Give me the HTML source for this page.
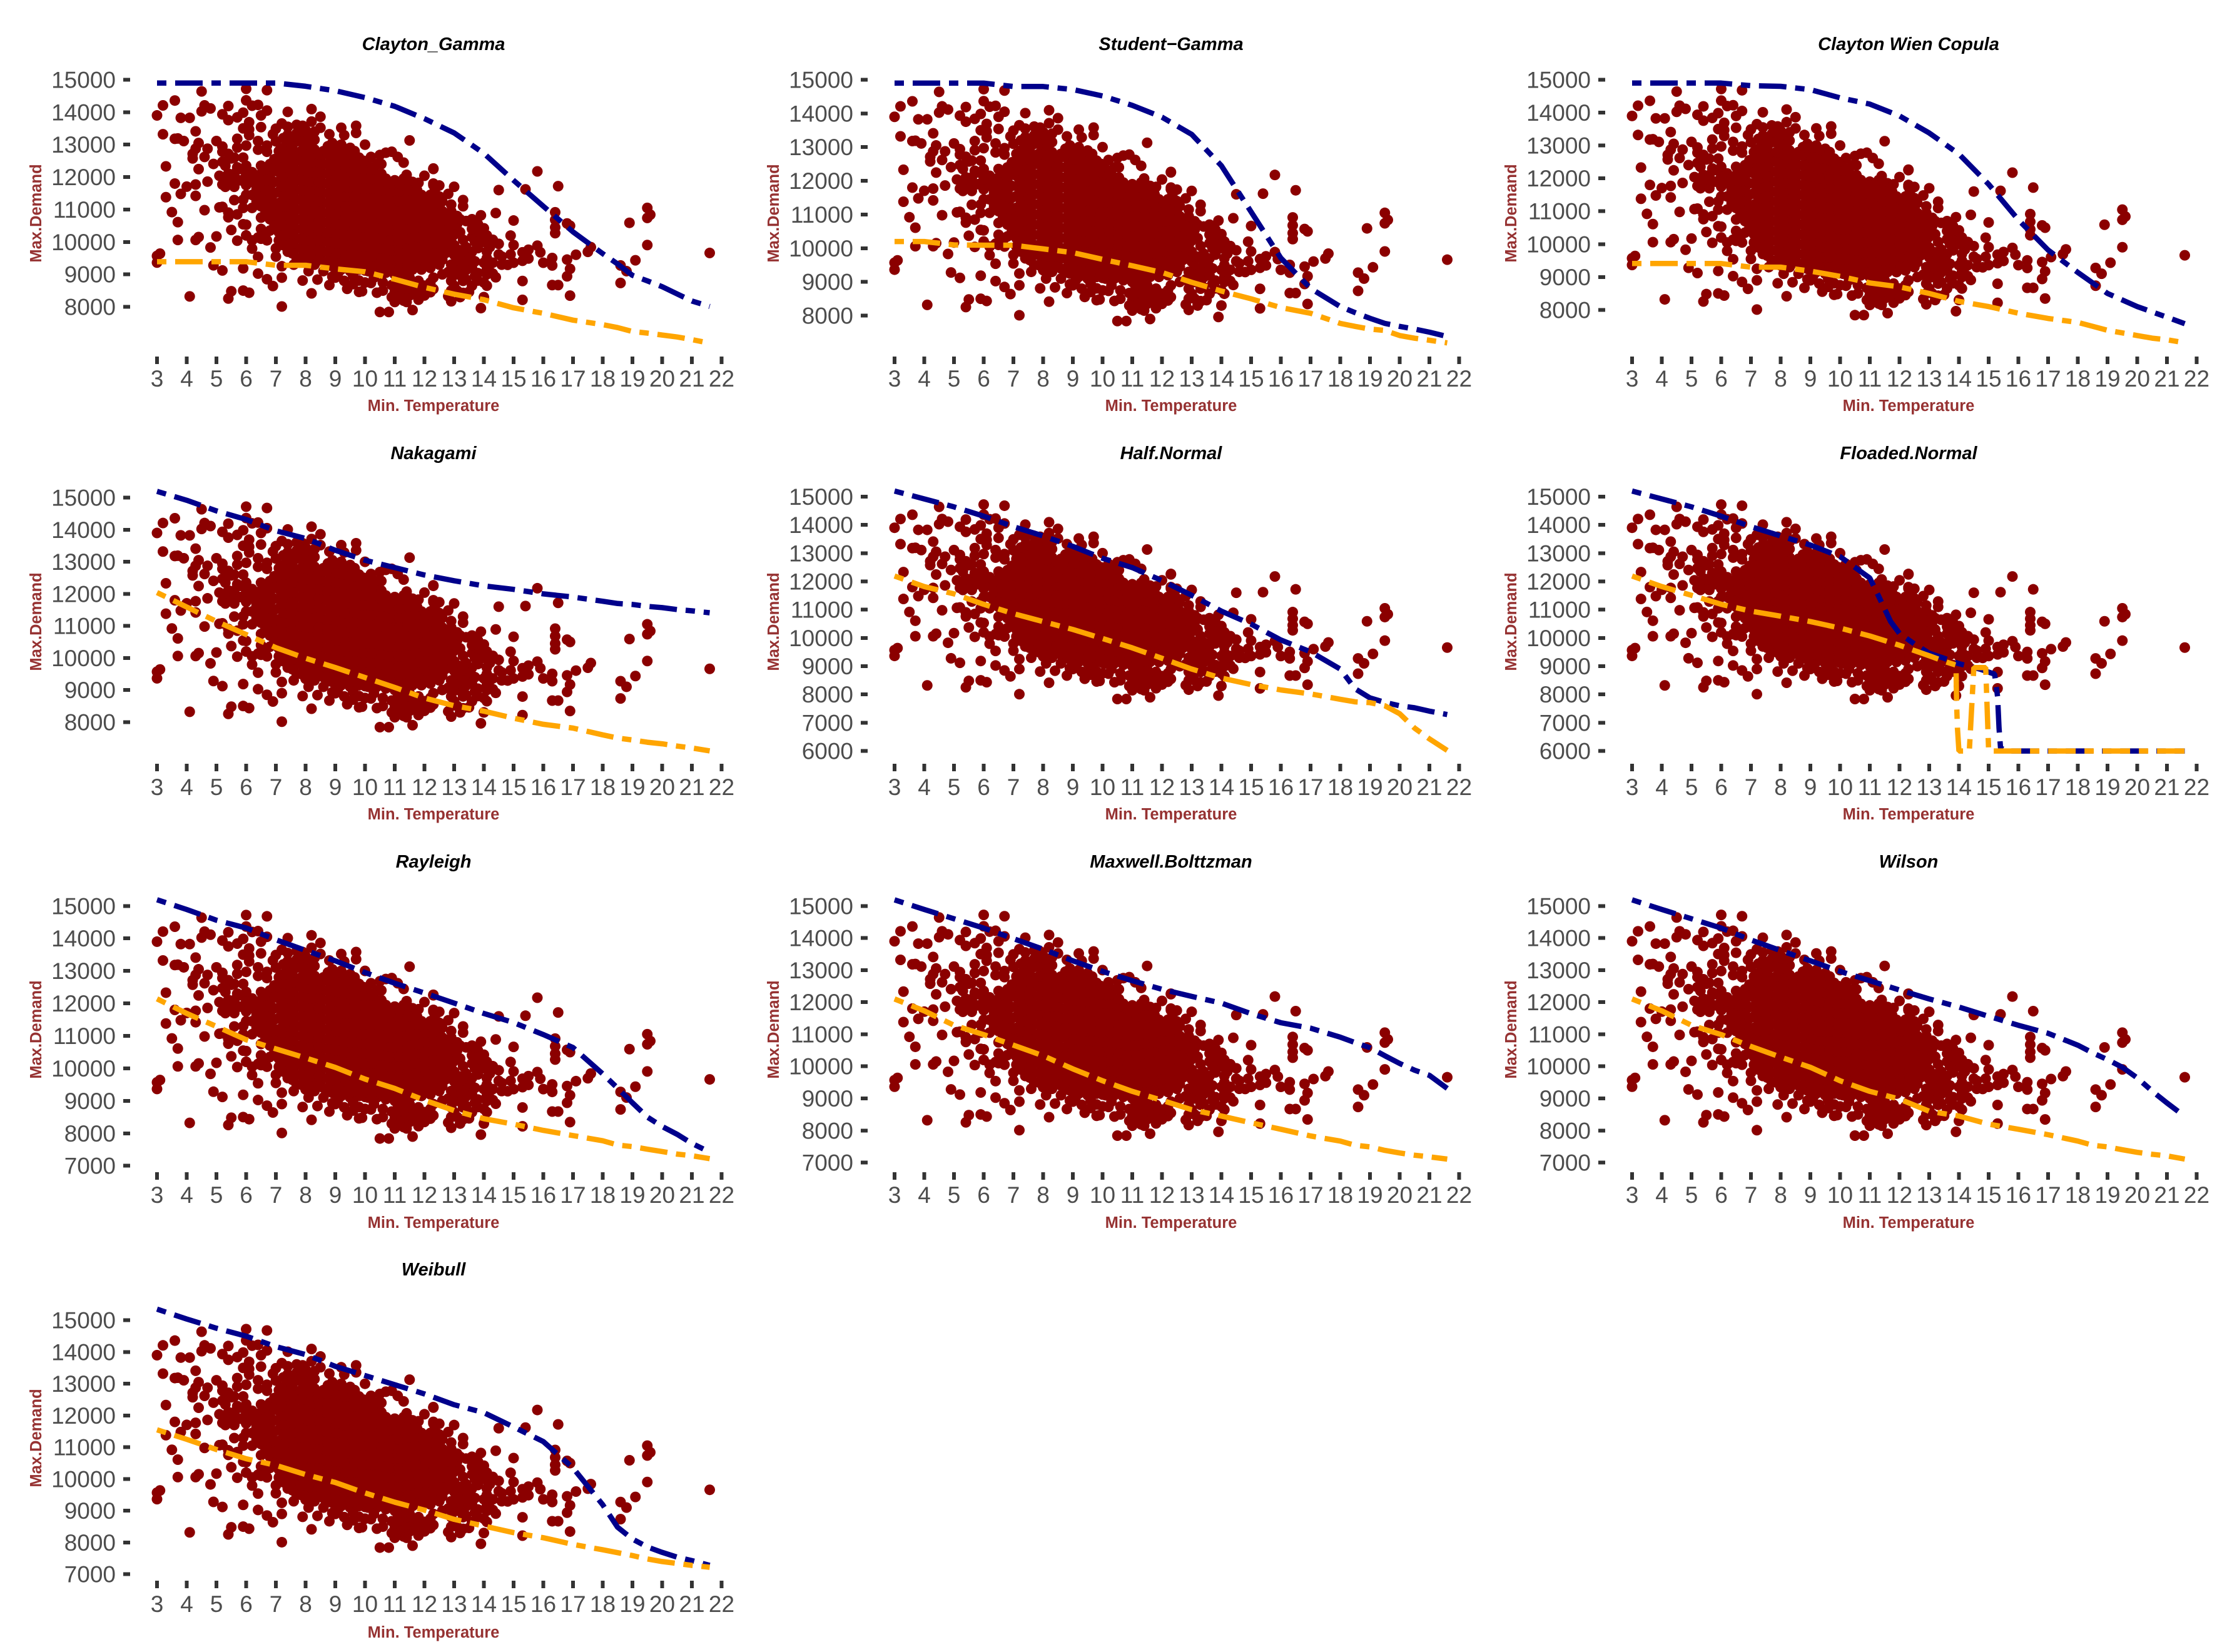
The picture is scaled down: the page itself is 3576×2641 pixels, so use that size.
<!DOCTYPE html>
<html lang="en">
<head>
<meta charset="utf-8">
<title>Max.Demand vs Min. Temperature by copula</title>
<style>
html,body{margin:0;padding:0;background:#fff;}
svg{display:block;font-family:"Liberation Sans",Arial,sans-serif;}
.tick-label{font-size:37px;fill:#4d4d4d;}
.axis-title{font-size:25.5px;font-weight:bold;fill:#963232;}
.panel-title{font-size:29px;font-weight:bold;font-style:italic;fill:#000;}
</style>
</head>
<body>
<svg id="chart" xmlns="http://www.w3.org/2000/svg" width="3576" height="2641" viewBox="0 0 3576 2641"></svg>
<script>
// ---- observed points: demandByTemp[i] holds all demand readings at tempValues[i]
const tempValues = [3.0,3.1,3.2,3.3,3.5,3.6,3.7,3.8,3.9,4.0,4.1,4.2,4.3,4.4,4.5,4.6,4.7,4.8,4.9,5.0,5.1,5.2,5.4,5.5,5.6,5.7,5.9,6.0,6.1,6.2,6.4,6.5,6.7,6.9,7.0,7.2,7.4,7.7,7.9,8.2,8.4,8.5,8.8,8.9,9.2,9.3,9.4,9.7,9.8,9.9,10.0,10.2,10.4,10.5,10.7,10.8,10.9,11.0,11.1,11.3,11.4,11.5,11.6,11.8,11.9,12.0,12.1,12.3,12.5,12.8,12.9,13.0,13.3,13.4,13.5,13.8,13.9,14.0,14.2,14.3,14.4,14.5,14.8,14.9,15.0,15.3,15.4,15.5,15.8,15.9,16.0,16.3,16.4,16.5,16.8,16.9,17.1,17.5,17.6,18.6,18.8,18.9,19.1,19.5,19.6,21.6,
6.2,6.5,6.8,7.1,7.4,7.7,8.0,8.3,8.6,8.9,9.2,9.5,9.8,10.1,10.4,10.7,11.0,11.3,11.6,11.9,12.2,12.5,12.7,11.1,11.2,11.5,11.8,12.2,7.6,8.1,13.0,12.9,
6.35,6.65,6.95,7.25,7.55,7.85,8.15,8.45,8.75,9.05,9.35,9.65,9.95,10.25,10.55,10.85,11.15,11.45,11.75,12.05,12.35,12.6,
13.1,13.2,13.6,13.7,14.1,14.6,12.9,10.6,10.9,11.0,11.4,11.7,12.0,12.3,12.6,8.6,9.0,9.1,9.3,9.6,10.0,10.3,
5.3,5.6,5.8,6.0,6.5,6.7,7.0,13.6,13.2,13.7,14.1,14.2,13.3,12.9];
const demandByTemp = [
[13900,9570,9365],[9640],[14210,13320],[12330,11380],[10920],[14360,13180,11800],[13190,10610,10060],[13825,11480],[13110],[11705],[13825,8320],[12715,12575],[13410,12875,11770,11420,10060],[13050,12245,10150],[14640,14025],[14210,12620,10980],[12875,11860],[14115,9830],[12405,9280],[13110,10170],[12040,11065],[13935,12940,12780,12470,11770,11080,9120],[14190,13755,12715,12105,10905,10760,8255],[12575,11850,10370,8480],[11290],[13840,13180,12910,12300,10850,10040],[13985,13500,12600,11300,11050,10545,9185,8500],[14720,14365,12970,10530,10200],[13690,13470,13290,8435],[14200,10050,9795],[14225,13110,12845,10135,9540,9025],[13900,13540],[14680,14050,12970,12780,8850],[13320,8640],[13490,13100],[13650,9250,8900,8010],[14010,13550],[13610],[13580,8810],[14095,13710,8415],[8840],[13860,13520],[13320,9280,8670],[8930],[13520],[13290],[9250,8555],[13580,13360],[9280,8810,8460],[8480],[13000,9120],[12620,8735],[8435],[12680,7840],[12750],[7840],[12780,8670],[8450],[12620],[12445,8190],[12070],[13130],[7900],[11820,8220],[8670],[12040],[8510],[12265,11750,12250,11800],[11740],[11480,10450,9070,8330],[11150,9745,8170],[11700,10390,10225,9100,8650],[11290,11100,10065,8430],[10645,9840,9550,9360,9135,8845],[10645,8460],[10550,10230,9810,9040,8810],[10820,10420,7960],[10420,10000,9360,8750,8300],[9840],[10065,9360,9025],[10890,8910],[11600,9940,9615],[9295],[10195,9615],[10660,9905,9360],[9680,9420,8795,8215],[11620],[9760,9490],[12175,9885],[9680],[9360],[9505,9275,8670],[10915,10680,10450,10270],[11720,8670],[10570,9455,8940],[10500,9170,8345],[9605],[9695],[9840],[9275,8735],[9100],[10590],[9435],[11050,10740,9905],[10840],[9660],
[11050,11450,11850,12150],
[10750,11100,11400,11750,12100,12350],
[10350,10700,11050,11350,11700,12050,12400],
[10050,10300,10650,10950,11200,11550,11850,12150,12450,12800],
[9700,10050,10350,10600,10950,11250,11500,11850,12100,12450,12750,13050,13300],
[9500,9800,10100,10400,10700,11000,11300,11600,11900,12200,12500,12750,13100,13350],
[9350,9650,9950,10250,10550,10850,11150,11450,11750,12050,12350,12650,12950,13250,13450],
[9300,9600,9900,10200,10500,10800,11100,11400,11700,12000,12300,12600,12850,13150,13400],
[9400,9700,10000,10300,10600,10900,11200,11500,11800,12100,12400,12700,12800],
[9250,9550,9850,10150,10450,10750,11050,11350,11650,11950,12250,12550,12850,13050],
[9150,9450,9750,10050,10350,10650,10950,11250,11550,11850,12150,12450,12750,13000],
[9100,9400,9700,10000,10300,10600,10900,11200,11500,11800,12100,12400,12700,12900],
[9150,9450,9750,10050,10350,10650,10950,11250,11550,11850,12150,12400,12600],
[9100,9400,9700,10000,10300,10600,10900,11200,11500,11800,12100,12350],
[9100,9400,9700,10000,10300,10600,10900,11200,11500,11800,12100,12400],
[9050,9350,9650,9950,10250,10550,10850,11150,11450,11750,11950],
[9000,9300,9600,9900,10200,10500,10800,11100,11400,11700,11900],
[9000,9300,9600,9900,10200,10500,10800,11100,11400,11700,11950],
[9150,9450,9750,10050,10350,10650,10950,11250,11550,11850],
[9150,9450,9750,10050,10350,10650,10950,11250,11450],
[9200,9500,9800,10100,10400,10700,11000,11300,11450],
[9300,9600,9900,10200,10500,10800,11100,11400],
[9650,9950,10250,10550,10800],
[8900,8650,8450],[8700,8350],[8900,8600,8350],[8800,8500],[8750,8450],[9300],[9100],[9300,9600,9900],[10100,10700],
[11250,11650,12000],
[10900,11250,11600,11900,12250],
[10500,10850,11200,11500,11850,12200,12550],
[9900,10200,10500,10800,11100,11400,11700,12000,12300,12600,12900,13200],
[9650,9950,10250,10550,10850,11150,11450,11750,12050,12350,12650,12950,13250],
[9500,9800,10100,10400,10700,11000,11300,11600,11900,12200,12500,12800,13100,13400],
[9450,9750,10050,10350,10650,10950,11250,11550,11850,12150,12450,12750,13050,13350],
[9450,9750,10050,10350,10650,10950,11250,11550,11850,12150,12450,12700],
[9400,9700,10000,10300,10600,10900,11200,11500,11800,12100,12400,12700,12950],
[9350,9650,9950,10250,10550,10850,11150,11450,11750,12050,12350,12650,12950],
[9300,9600,9900,10200,10500,10800,11100,11400,11700,12000,12300,12600,12850],
[9300,9600,9900,10200,10500,10800,11100,11400,11700,12000,12300,12550,12800],
[9250,9550,9850,10150,10450,10750,11050,11350,11650,11950,12250,12500],
[9250,9550,9850,10150,10450,10750,11050,11350,11650,11950,12250],
[9200,9500,9800,10100,10400,10700,11000,11300,11600,11850,12100,12400],
[9150,9450,9750,10050,10350,10650,10950,11250,11550,11800],
[9150,9450,9750,10050,10350,10650,10950,11250,11550,11800],
[9200,9500,9800,10100,10400,10700,11000,11300,11600,11900],
[9250,9550,9850,10150,10450,10750,11050,11350,11600],
[9300,9600,9900,10200,10500,10800,11100,11350],
[9350,9650,9950,10250,10550,10850,11150,11450,11600],
[9450,9750,10050,10350,10650,10950,11250],
[10800,10550,9450,9000,8500],
[9750,9250,8300],
[10150,9700,9450,9200,8650],
[10000,9400,8950],
[9700,9500,9150,8650],
[9550,9300],
[9300,9000,8800,8500],
[8750,8500],
[8300],
[8150,8600],
[8550,8150,8800],
[8700,8450],
[8650,8350],
[8900,8550],
[9000],
[9100],
[8900],
[9050],
[8800],
[8950,8700],
[8750],
[8900],
[12350,12000,11700],
[12600,12100,11950,11700],
[12250,11900],
[12350,12050,11750,11450],
[10400,10100],
[10300,10050],
[9800,9550],
[10400,10700],
[10700,10300],
[10650],
[10200,9000],
[9300],
[9700,9300,9000,8800],
[10950,10600]
];

// ---- interval curves: temperatures shared by nearly every panel
const curveTemps = [3,4,5,6,7,8,9,10,11,12,13,14,15,16,17,18,18.5,19,19.5,20,20.5,21,21.6];

const claytonGammaUpper = [14900,14900,14900,14900,14900,14800,14660,14450,14180,13800,13360,12730,11900,11100,10310,9640,9320,8970,8800,8620,8400,8180,8010];
const claytonGammaLower = [9390,9390,9390,9390,9280,9280,9170,9080,8850,8600,8390,8220,7970,7800,7590,7450,7360,7240,7190,7130,7070,6990,6880];
const studentGammaUpper = [14900,14900,14900,14900,14800,14800,14710,14520,14240,13890,13380,12450,11080,9710,8810,8270,8090,7920,7770,7680,7600,7510,7380];
const studentGammaLower = [10200,10200,10100,10090,10090,9980,9870,9670,9480,9280,8990,8730,8500,8240,8070,7770,7680,7600,7560,7410,7330,7270,7190];
const claytonWienUpper = [14900,14900,14900,14900,14820,14800,14700,14450,14260,13900,13380,12740,11820,10740,9820,9140,8820,8500,8300,8100,7940,7780,7580];
const claytonWienLower = [9410,9410,9410,9410,9300,9300,9180,9020,8820,8700,8500,8260,8100,7900,7740,7620,7500,7380,7300,7220,7140,7090,7000];
const nakagamiUpper = [15200,14920,14590,14320,13970,13730,13360,13050,12820,12590,12410,12250,12140,12000,11900,11770,11700,11670,11610,11570,11510,11470,11410];
const nakagamiLower = [12040,11590,11140,10730,10320,9990,9700,9390,9080,8750,8510,8340,8120,7930,7810,7600,7500,7440,7370,7320,7250,7190,7100];
const halfNormalUpper = [15200,14920,14640,14310,13940,13610,13240,12820,12490,12030,11510,10950,10490,9930,9510,8900,8200,7880,7720,7600,7530,7410,7290];
const halfNormalLower = [12190,11820,11560,11190,10860,10580,10300,9980,9650,9280,8900,8580,8350,8160,8020,7830,7740,7710,7600,7320,6810,6430,6020];
const rayleighUpper = [15190,14890,14560,14320,13960,13630,13310,12950,12620,12320,12010,11690,11410,11040,10640,9830,9390,8940,8500,8210,7970,7690,7420];
const rayleighLower = [12140,11690,11290,10880,10600,10320,10030,9670,9380,9020,8700,8450,8280,8090,7930,7770,7640,7590,7510,7440,7360,7310,7220];
const maxwellUpper = [15190,14890,14600,14310,13980,13650,13290,12960,12670,12400,12180,11970,11640,11360,11190,10910,10740,10580,10330,10090,9880,9720,9310];
const maxwellLower = [12100,11730,11280,10990,10660,10330,9920,9550,9220,8940,8650,8450,8240,8040,7830,7670,7540,7490,7380,7300,7230,7180,7110];
const wilsonUpper = [15190,14890,14600,14310,13940,13610,13290,12960,12670,12380,12100,11850,11560,11280,11030,10660,10420,10210,9970,9640,9230,8860,8440];
const wilsonLower = [12100,11730,11280,10990,10620,10290,9970,9550,9220,8980,8600,8450,8200,8040,7870,7670,7540,7490,7400,7320,7260,7210,7110];
const weibullUpper = [15350,15040,14750,14500,14170,13920,13550,13260,12970,12680,12340,12090,11640,11180,10350,9190,8480,8110,7860,7690,7540,7430,7280];
const weibullLower = [11550,11250,10930,10640,10430,10140,9890,9560,9270,9020,8730,8520,8310,8150,7940,7770,7680,7590,7480,7400,7340,7280,7220];

// Floaded.Normal collapses to 6000, so it has its own temperature samples
const floadedUpperTemps = [3,4,5,6,7,8,9,10,11,11.3,11.7,12,12.5,13,13.5,14,14.7,15.2,15.3,15.35,15.4,15.6,21.6];
const floadedUpperValues = [15200,14920,14640,14310,13940,13610,13290,12880,12120,11470,10580,10160,9790,9460,9280,9090,8900,8720,7920,6810,6110,6000,6000];
const floadedLowerTemps = [3,4,5,6,7,8,9,10,11,12,13,13.6,13.9,13.92,13.95,14,14.35,14.5,14.9,15,21.6];
const floadedLowerValues = [12190,11820,11510,11190,10950,10770,10580,10350,10070,9740,9370,9140,9040,7740,6810,6000,6000,8950,8950,6000,6000];

// ---- ticks and labels
const xTickValues = [3,4,5,6,7,8,9,10,11,12,13,14,15,16,17,18,19,20,21,22];
const yTicksFrom8000 = [8000,9000,10000,11000,12000,13000,14000,15000];
const yTicksFrom7000 = [7000,8000,9000,10000,11000,12000,13000,14000,15000];
const yTicksFrom6000 = [6000,7000,8000,9000,10000,11000,12000,13000,14000,15000];
const xAxisTitle = 'Min. Temperature';
const yAxisTitle = 'Max.Demand';

// ---- panel layout (pixels)
const colX3 = [251, 1430, 2609];
const unitPx = 47.5;
const rows = [
  {title:80,  tickTop:570,  label:618,  xTitle:657,  yMid:341},
  {title:734, tickTop:1221, label:1271, xTitle:1310, yMid:994},
  {title:1387,tickTop:1874, label:1923, xTitle:1963, yMid:1646},
  {title:2039,tickTop:2527, label:2577, xTitle:2618, yMid:2299}
];
const panels = [
  {name:'Clayton_Gamma', col:0,row:0,ticks:yTicksFrom8000,top:127.5,low:490.5,uT:curveTemps,u:claytonGammaUpper,lT:curveTemps,l:claytonGammaLower},
  {name:'Student\u2212Gamma', col:1,row:0,ticks:yTicksFrom8000,top:127.5,low:504.6,uT:curveTemps,u:studentGammaUpper,lT:curveTemps,l:studentGammaLower},
  {name:'Clayton Wien Copula', col:2,row:0,ticks:yTicksFrom8000,top:127.5,low:495.4,uT:curveTemps,u:claytonWienUpper,lT:curveTemps,l:claytonWienLower},
  {name:'Nakagami', col:0,row:1,ticks:yTicksFrom8000,top:795.7,low:1154.3,uT:curveTemps,u:nakagamiUpper,lT:curveTemps,l:nakagamiLower},
  {name:'Half.Normal', col:1,row:1,ticks:yTicksFrom6000,top:794,low:1200.6,uT:curveTemps,u:halfNormalUpper,lT:curveTemps,l:halfNormalLower},
  {name:'Floaded.Normal', col:2,row:1,ticks:yTicksFrom6000,top:794,low:1200.6,uT:floadedUpperTemps,u:floadedUpperValues,lT:floadedLowerTemps,l:floadedLowerValues},
  {name:'Rayleigh', col:0,row:2,ticks:yTicksFrom7000,top:1448.3,low:1863.7,uT:curveTemps,u:rayleighUpper,lT:curveTemps,l:rayleighLower},
  {name:'Maxwell.Bolttzman', col:1,row:2,ticks:yTicksFrom7000,top:1448.3,low:1858.6,uT:curveTemps,u:maxwellUpper,lT:curveTemps,l:maxwellLower},
  {name:'Wilson', col:2,row:2,ticks:yTicksFrom7000,top:1448.3,low:1858.6,uT:curveTemps,u:wilsonUpper,lT:curveTemps,l:wilsonLower},
  {name:'Weibull', col:0,row:3,ticks:yTicksFrom7000,top:2110.7,low:2516.7,uT:curveTemps,u:weibullUpper,lT:curveTemps,l:weibullLower}
];

const NS = 'http://www.w3.org/2000/svg';
const root = document.getElementById('chart');
function mk(tag, attrs, parent){
  const e = document.createElementNS(NS, tag);
  for (const k in attrs) e.setAttribute(k, attrs[k]);
  parent.appendChild(e);
  return e;
}
function slug(s){ return s.toLowerCase().replace(/[^a-z0-9]+/g,'-'); }

panels.forEach(function(p){
  const x3 = colX3[p.col];
  const r = rows[p.row];
  const minTick = p.ticks[0];
  const maxTick = p.ticks[p.ticks.length-1];
  const xScale = function(t){ return x3 + (t-3)*unitPx; };
  const yScale = function(v){ return p.low + (v-minTick)*(p.top-p.low)/(maxTick-minTick); };

  const g = mk('g', {}, root);
  
  

  const title = mk('text', {x:x3+442, y:r.title, 'text-anchor':'middle', class:'panel-title'}, g);
  title.textContent = p.name;
  
  

  const yt = mk('text', {transform:'translate('+(x3-185)+' '+r.yMid+') rotate(-90)', 'text-anchor':'middle', class:'axis-title'}, g);
  yt.textContent = yAxisTitle;
  
  

  const xt = mk('text', {x:x3+442, y:r.xTitle, 'text-anchor':'middle', class:'axis-title'}, g);
  xt.textContent = xAxisTitle;
  
  

  p.ticks.forEach(function(v){
    const y = yScale(v);
    const tick = mk('rect', {x:x3-54, y:y-3, width:11, height:6, fill:'#333333','shape-rendering':'crispEdges'}, g);
    
    
    const lab = mk('text', {x:x3-66, y:y+13, 'text-anchor':'end', class:'tick-label'}, g);
    lab.textContent = v;
    
    
  });

  xTickValues.forEach(function(t){
    const x = xScale(t);
    const tick = mk('rect', {x:x-3, y:r.tickTop, width:6, height:12, fill:'#333333','shape-rendering':'crispEdges'}, g);
    
    
    const lab = mk('text', {x:x, y:r.label, 'text-anchor':'middle', class:'tick-label'}, g);
    lab.textContent = t;
    
    
  });

  const dots = mk('g', {fill:'#8b0000'}, g);
  
  
  tempValues.forEach(function(t, i){
    demandByTemp[i].forEach(function(v){
      const c = mk('circle', {cx:xScale(t), cy:yScale(v), r:8.5}, dots);
      
      
    });
  });

  function curve(ts, vs, color, label){
    let d = '';
    ts.forEach(function(t, i){
      d += (i ? 'L' : 'M') + xScale(t).toFixed(1) + ' ' + yScale(vs[i]).toFixed(1);
    });
    const path = mk('path', {d:d, fill:'none', stroke:color, 'stroke-width':8.5, 'stroke-dasharray':'15 14 44 14', 'stroke-linecap':'butt', 'stroke-linejoin':'bevel'}, g);
    
    
  }
  curve(p.uT, p.u, '#00008b', 'upper-bound-line');
  curve(p.lT, p.l, '#ffa500', 'lower-bound-line');
});
</script>
</body>
</html>
